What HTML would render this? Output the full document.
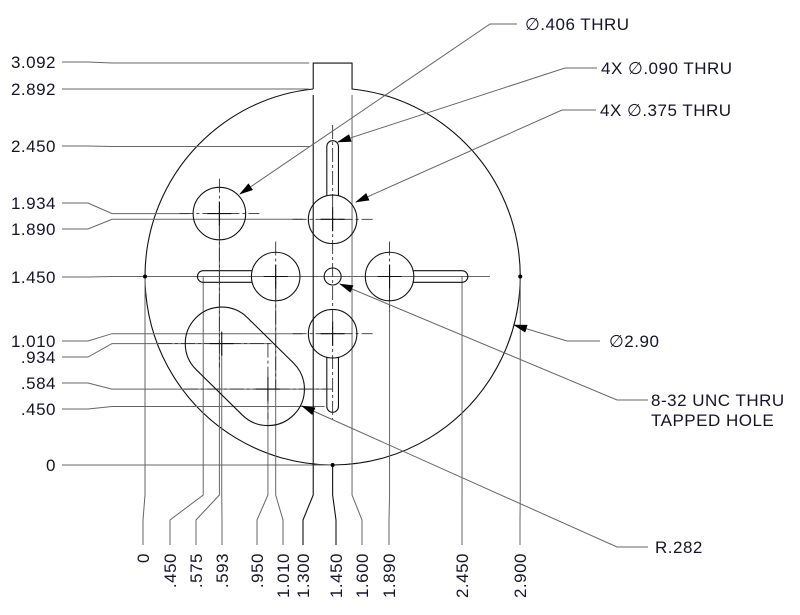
<!DOCTYPE html>
<html><head><meta charset="utf-8"><style>
html,body{margin:0;padding:0;background:#fff;width:800px;height:615px;overflow:hidden}
svg text{font-family:"Liberation Sans",sans-serif;fill:#14142a;letter-spacing:0.5px}
</style></head><body>
<svg id="dwg" width="800" height="615" viewBox="0 0 800 615" xmlns="http://www.w3.org/2000/svg">
<defs><marker id="arr" markerWidth="14" markerHeight="8" refX="13" refY="4" orient="auto" markerUnits="userSpaceOnUse"><path d="M0,0 L14,4 L0,8 Z" fill="#000"/></marker></defs>
<g id="g"></g>
</svg>
<script>
// drawing data (inches)
const yDims=[3.092,2.892,2.450,1.934,1.890,1.450,1.010,0.934,0.584,0.450,0];
const yLabels=["3.092","2.892","2.450","1.934","1.890","1.450","1.010",".934",".584",".450","0"];
const yLabelPos=[62,89,146,203,229,277,341,357,383,409,465];
const xDims=[0,0.450,0.575,0.593,0.950,1.010,1.300,1.450,1.600,1.890,2.450,2.900];
const xLabels=["0",".450",".575",".593",".950","1.010","1.300","1.450","1.600","1.890","2.450","2.900"];
const xLabelPos=[143,170,196,222,257,283,303,336,362,389,462,520];
const bigHoles=[[1.45,1.89],[1.01,1.45],[1.89,1.45],[1.45,1.01]];
const xs=129.4, ys=130, ox=145, oy=465;
const X=v=>ox+v*xs, Y=v=>oy-v*ys;
const g=document.getElementById('g');
const NS='http://www.w3.org/2000/svg';
function el(tag,a,name){const e=document.createElementNS(NS,tag);for(const k in a)e.setAttribute(k,a[k]);


g.appendChild(e);return e;}
const thin={stroke:'#666','stroke-width':1,fill:'none'};
const blk={stroke:'#111','stroke-width':1.1,fill:'none'};
const cl={stroke:'#333','stroke-width':0.9,fill:'none','stroke-dasharray':'14 3 3 3'};
function line(x1,y1,x2,y2,s,n){return el('line',Object.assign({x1,y1,x2,y2},s),n);}
function poly(pts,s,n){return el('polyline',Object.assign({points:pts.map(p=>p.join(',')).join(' ')},s),n);}

// outer circle with tab
const cx=X(1.45), cy=Y(1.45), R=1.45*xs, Ry=1.45*ys;
const tl=X(1.3), tr=X(1.6);
const dy=Ry*Math.sqrt(1-Math.pow((tr-cx)/R,2));
el('path',Object.assign({d:`M${tl},${cy-dy} L${tl},${Y(3.092)} L${tr},${Y(3.092)} L${tr},${cy-dy} A${R},${Ry} 0 1 1 ${tl},${cy-dy}`},blk),'outer-profile');

// left dimensions
yDims.forEach((v,i)=>{
  const ly=yLabelPos[i], fy=Y(v);
  el('text',{x:56,y:ly+6,'font-size':17,'text-anchor':'end'},'y-dim-label').textContent=yLabels[i];
  let endX = v===0?cx: v>=2.8?tl-4 : v===2.45?tl-4 : v===1.45?145 : v===1.934?X(0.575)-30 : v===1.89?X(1.45)-30 : v===1.01?X(1.45)-30 : v===0.934?X(0.593)+50 : v===0.584?X(0.95)+60: X(1.45)-8;
  if(v===1.45) endX=490;
  poly([[62,ly],[88,ly],[112,fy],[endX,fy]],thin,'y-dim-leader');
});
// bottom dimensions
xDims.forEach((v,i)=>{
  const lx=xLabelPos[i], fx=X(v);
  let top = v===0?277: v===2.9?277: v===1.3||v===1.6?95: v===1.45?465: v===2.45||v===1.89?277: v===0.45?277: v===1.01?277: v===0.575?213: v===0.593?343: 389;
  poly([[fx,top],[fx,495],[lx,520],[lx,545]],v===1.3||v===1.45?blk:thin,'x-dim-leader');
  const t=el('text',{x:0,y:0,'font-size':17,'text-anchor':'end',transform:`translate(${lx+6},${553}) rotate(-90)`},'x-dim-label');t.textContent=xLabels[i];
});
el('circle',{cx:145,cy:cy,r:2,fill:'#000'},'quadrant-dot');
el('circle',{cx:X(2.9),cy:cy,r:2,fill:'#000'},'quadrant-dot');
el('circle',{cx:cx,cy:Y(0),r:2,fill:'#000'},'quadrant-dot');

// slots .090
const sr=0.045*xs;
function vslot(x,y1,y2){const a=X(x)-sr,b=X(x)+sr;el('path',Object.assign({d:`M${a},${y1} L${a},${y2} A${sr},${sr} 0 0 ${y2<y1?1:0} ${b},${y2} L${b},${y1}`},blk),'slot-090');}
function hslot(y,x1,x2){const a=Y(y)-sr,b=Y(y)+sr;el('path',Object.assign({d:`M${x1},${a} L${x2},${a} A${sr},${sr} 0 0 ${x2>x1?1:0} ${x2},${b} L${x1},${b}`},blk),'slot-090');}
const hr=0.1875*xs;
vslot(1.45,Y(1.89)-hr+1,Y(2.45));
vslot(1.45,Y(1.01)+hr-1,Y(0.45));
hslot(1.45,X(1.01)-hr+1,X(0.45));
hslot(1.45,X(1.89)+hr-1,X(2.45));
// centerlines
line(X(1.45),125,X(1.45),Y(0.35),cl,'centerline-v');
line(X(1.01),Y(1.45)-35,X(1.01),Y(0.58),cl,'centerline-v');
line(X(0.95),Y(0.934),X(0.95),Y(0.35),cl,'centerline-v');
line(X(0.575),Y(1.934)-35,X(0.575),Y(0.75),cl,'centerline-v');
line(X(0.575)-40,Y(1.934),X(0.575)+40,Y(1.934),cl,'centerline-h');
line(X(1.45)-40,Y(1.89),X(1.45)+40,Y(1.89),cl,'centerline-h');
line(X(1.45)-40,Y(1.01),X(1.45)+40,Y(1.01),cl,'centerline-h');
line(X(0.1),Y(0.934),X(1.0),Y(0.934),cl,'centerline-h');
line(X(0.3),Y(0.584),X(1.45),Y(0.584),cl,'centerline-h');
line(X(1.89),Y(1.45)-35,X(1.89),Y(1.45)+35,cl,'centerline-v');
// holes
function hole(x,y,r,n){el('circle',Object.assign({cx:X(x),cy:Y(y),r},blk),n);
 line(X(x)-12,Y(y),X(x)+12,Y(y),blk,'center-mark');line(X(x),Y(y)-12,X(x),Y(y)+12,blk,'center-mark');}
hole(0.575,1.934,0.203*xs,'hole-406');
bigHoles.forEach(h=>hole(h[0],h[1],hr,'hole-375'));
el('circle',Object.assign({cx:X(1.45),cy:Y(1.45),r:8.5},blk),'tapped-hole');
// obround R.282
const c1=[X(0.593),Y(0.934)],c2=[X(0.95),Y(0.584)],r=0.282*xs;
let dx=c2[0]-c1[0],dyy=c2[1]-c1[1],L=Math.hypot(dx,dyy);dx/=L;dyy/=L;const nx=-dyy,ny=dx;
el('path',Object.assign({d:`M${c1[0]+r*nx},${c1[1]+r*ny} L${c2[0]+r*nx},${c2[1]+r*ny} A${r},${r} 0 0 0 ${c2[0]-r*nx},${c2[1]-r*ny} L${c1[0]-r*nx},${c1[1]-r*ny} A${r},${r} 0 0 0 ${c1[0]+r*nx},${c1[1]+r*ny} Z`},blk),'obround-slot');
line(c1[0]-12,c1[1],c1[0]+12,c1[1],blk,'center-mark');line(c1[0],c1[1]-12,c1[0],c1[1]+12,blk,'center-mark');
line(c2[0]-12,c2[1],c2[0]+12,c2[1],blk,'center-mark');line(c2[0],c2[1]-12,c2[0],c2[1]+12,blk,'center-mark');

// callouts
function callout(tx,ty,lines,lx1,lx2,ax,ay,n){
  el('polyline',Object.assign({points:`${lx2},${ty} ${lx1},${ty} ${ax},${ay}`,'marker-end':'url(#arr)'},thin),n+'-leader');
  lines.forEach((s,i)=>{el('text',{x:tx,y:ty+6+i*20,'font-size':17},n+'-text').textContent=s;});
}
callout(525,24,["∅.406 THRU"],490,517,240,194,'callout-406');
callout(601,68,["4X ∅.090 THRU"],565,597,338,142,'callout-090');
callout(600,110,["4X ∅.375 THRU"],562,596,356,202,'callout-375');
callout(609,341,["∅2.90"],567,600,514,325,'callout-dia290');
callout(651,400,["8-32 UNC THRU","TAPPED HOLE"],617,648,340,284,'callout-tapped');
callout(655,547,["R.282"],617,648,302,406,'callout-r282');
</script>
</body></html>
